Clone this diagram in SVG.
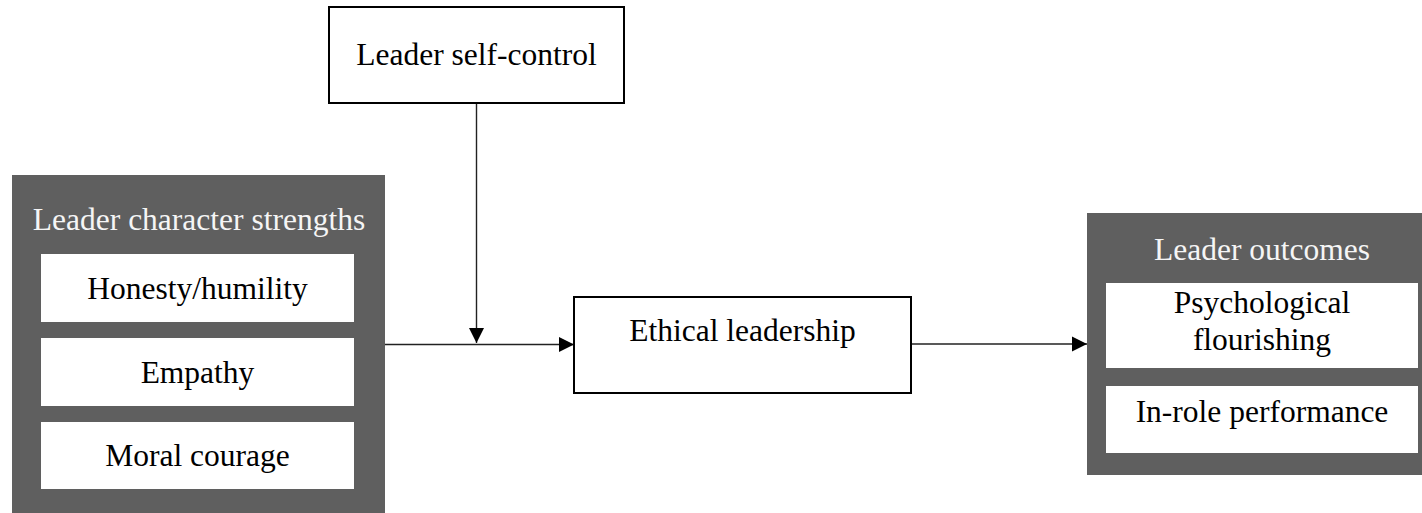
<svg xmlns="http://www.w3.org/2000/svg" width="1422" height="513" viewBox="0 0 1422 513">
  <style>
    .panel { fill: #5f5f5f; }
    .inner { fill: #ffffff; }
    .box { fill: #ffffff; stroke: #000000; stroke-width: 2; }
    .t { font-family: "Liberation Serif", "Times New Roman", serif; font-size: 31.5px; text-anchor: middle; fill: #000000; }
    .tw { fill: #f5f5f5; }
    .conn { stroke: #222222; stroke-width: 1.4; fill: none; marker-end: url(#arrow); }
  </style>
  <defs>
    <marker id="arrow" markerUnits="userSpaceOnUse" markerWidth="16" markerHeight="16" viewBox="0 0 16 16" refX="15" refY="8" orient="auto">
      <path d="M0,0.5 L15,8 L0,15.5 Z" fill="#000000"/>
    </marker>
  </defs>
  <rect width="1422" height="513" fill="#ffffff"/>

  <g id="connectors">
    <line class="conn" x1="476.5" y1="103" x2="476.5" y2="343"/>
    <line class="conn" x1="385" y1="344.5" x2="574" y2="344.5"/>
    <line class="conn" x1="911" y1="344" x2="1087" y2="344"/>
  </g>

  <g id="self-control">
    <rect class="box" x="329" y="7" width="295" height="96"/>
    <text class="t" x="476.5" y="65">Leader self-control</text>
  </g>

  <g id="ethical-leadership">
    <rect class="box" x="574" y="297" width="337" height="96"/>
    <text class="t" x="742.5" y="341">Ethical leadership</text>
  </g>

  <g id="character-strengths">
    <rect class="panel" x="12" y="175" width="373" height="338"/>
    <text class="t tw" x="199" y="230">Leader character strengths</text>
    <g id="honesty">
      <rect class="inner" x="41" y="254" width="313" height="68"/>
      <text class="t" x="197.5" y="299">Honesty/humility</text>
    </g>
    <g id="empathy">
      <rect class="inner" x="41" y="338" width="313" height="68"/>
      <text class="t" x="197.5" y="383">Empathy</text>
    </g>
    <g id="moral-courage">
      <rect class="inner" x="41" y="422" width="313" height="67"/>
      <text class="t" x="197.5" y="466">Moral courage</text>
    </g>
  </g>

  <g id="leader-outcomes">
    <rect class="panel" x="1087" y="213" width="335" height="262"/>
    <text class="t tw" x="1262" y="260">Leader outcomes</text>
    <g id="flourishing">
      <rect class="inner" x="1106" y="283" width="312" height="85"/>
      <text class="t" x="1262" y="313">Psychological</text>
      <text class="t" x="1262" y="350">flourishing</text>
    </g>
    <g id="performance">
      <rect class="inner" x="1106" y="386" width="312" height="67"/>
      <text class="t" x="1262" y="422">In-role performance</text>
    </g>
  </g>
</svg>
